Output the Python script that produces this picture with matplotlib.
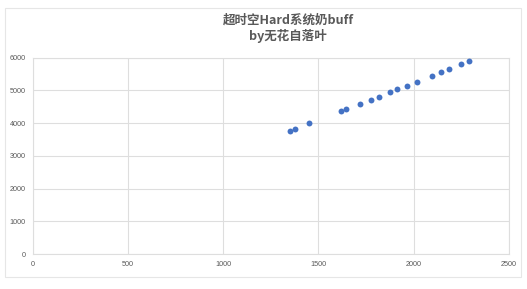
import matplotlib
matplotlib.use('Agg')
import matplotlib.pyplot as plt
from matplotlib.patches import Rectangle

# ── Data ──────────────────────────────────────────────────────────────────────
x_vals = [1351, 1376, 1452, 1621, 1647, 1721, 1775, 1819, 1874,
          1913, 1965, 2017, 2099, 2147, 2187, 2252, 2293]
y_vals = [3768, 3830, 3998, 4380, 4432, 4600, 4722, 4814, 4951,
          5034, 5150, 5266, 5449, 5562, 5654, 5798, 5889]
x_ticks = [0, 500, 1000, 1500, 2000, 2500]
y_ticks = [0, 1000, 2000, 3000, 4000, 5000, 6000]
title_lines = ["超时空Hard系统奶buff", "by无花自落叶"]

# ── Style ─────────────────────────────────────────────────────────────────────
GRID   = "#dedede"
TEXT   = "#595959"
MARKER = "#4472c4"

plt.rcParams["font.family"] = ["Noto Sans CJK SC", "DejaVu Sans"]

fig = plt.figure(figsize=(5.27, 2.89), dpi=100, facecolor="white")
ax = fig.add_axes([0.0620, 0.1211, 0.9033, 0.6792])

ax.scatter(x_vals, y_vals, s=18, color=MARKER, zorder=3, linewidths=0)

ax.set_xlim(0, 2500)
ax.set_ylim(0, 6000)
ax.set_xticks(x_ticks)
ax.set_yticks(y_ticks)
ax.grid(True, color=GRID, linewidth=0.8)
ax.set_axisbelow(True)
for spine in ax.spines.values():
    spine.set_color(GRID)
    spine.set_linewidth(0.8)
ax.tick_params(length=0, labelsize=5.2, labelcolor=TEXT, pad=5)
for lab in ax.get_xticklabels() + ax.get_yticklabels():
    lab.set_family("Liberation Sans")

# title, two lines
fig.text(0.547, 1 - 20.5 / 289, title_lines[0], ha="center", va="center",
         fontsize=9, fontweight="bold", color=TEXT)
fig.text(0.547, 1 - 36 / 289, title_lines[1], ha="center", va="center",
         fontsize=9, fontweight="bold", color=TEXT)

# faint chart-area frame
fig.patches.append(Rectangle((4.5 / 527, 1 - 277 / 289), (521 - 4.5) / 527,
                             (277 - 8) / 289, transform=fig.transFigure,
                             fill=False, edgecolor="#e6e6e6", linewidth=0.8))

fig.savefig("out.png", dpi=100, facecolor="white")
